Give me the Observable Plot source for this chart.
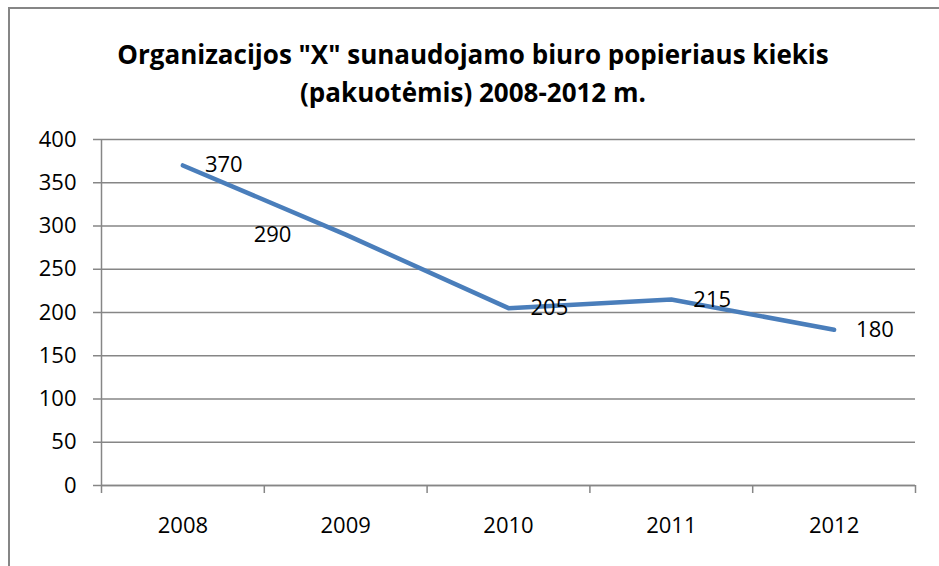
<!DOCTYPE html>
<html>
<head>
<meta charset="utf-8">
<script src="https://cdn.jsdelivr.net/npm/d3@7"></script>
<script src="https://cdn.jsdelivr.net/npm/@observablehq/plot@0.6"></script>
<style>
  html, body { margin: 0; padding: 0; background: #fff; }
  #wrap { position: relative; width: 939px; height: 566px; overflow: hidden; background: #fff; font-family: "Open Sans", sans-serif; }
  #frame { position: absolute; left: 8px; top: 7px; width: 960px; height: 600px; border: 2px solid #868686; box-sizing: border-box; }
  #title { position: absolute; left: 9px; width: 928px; top: 35px; text-align: center; font-weight: bold; font-size: 26px; line-height: 38px; color: #000; }
  #chart { position: absolute; left: 0; top: 0; }
</style>
</head>
<body>
<div id="wrap">
  <div id="frame"></div>
  <div id="title">Organizacijos "X" sunaudojamo biuro popieriaus kiekis<br>(pakuotėmis) 2008-2012 m.</div>
  <div id="chart"></div>
</div>
<script>
const years = [2008, 2009, 2010, 2011, 2012];
const values = [370, 290, 205, 215, 180];
const yTicks = [0, 50, 100, 150, 200, 250, 300, 350, 400];

const data = years.map((y, i) => ({year: y, value: values[i]}));
const boundaries = d3.range(years[0] - 0.5, years[years.length - 1] + 1, 1);
const gray = "#868686";

const plot = Plot.plot({
  width: 939,
  height: 566,
  marginLeft: 101,
  marginRight: 24,
  marginTop: 139,
  marginBottom: 81,
  style: {fontFamily: "Open Sans, sans-serif", fontSize: "22px", color: "#000", background: "transparent", overflow: "visible"},
  x: {type: "linear", domain: [years[0] - 0.5, years[years.length - 1] + 0.5], axis: null},
  y: {domain: [0, 400], axis: null},
  marks: [
    Plot.gridY(yTicks, {stroke: gray, strokeOpacity: 1, strokeWidth: 1.5}),
    Plot.ruleX([years[0] - 0.5], {stroke: gray, strokeWidth: 1.5}),
    Plot.ruleY([0], {stroke: gray, strokeWidth: 1.5}),
    Plot.axisY({ticks: yTicks, label: null, tickSize: 8, tickPadding: 17, stroke: gray, strokeWidth: 1.5, fill: "#000", fontSize: 22}),
    Plot.axisX({ticks: boundaries, label: null, tickSize: 8, tickFormat: () => "", stroke: gray, strokeWidth: 1.5}),
    Plot.axisX({ticks: years, label: null, tickSize: 0, tickPadding: 32, tickFormat: d => String(d), fill: "#000", fontSize: 22}),
    Plot.line(data, {x: "year", y: "value", stroke: "#4a7ebb", strokeWidth: 4.5, strokeLinecap: "round", strokeLinejoin: "round"}),
    Plot.text(data.filter(d => d.year !== 2009), {x: "year", y: "value", text: d => String(d.value), textAnchor: "start", dx: 22, fill: "#000", fontSize: 22}),
    Plot.text(data.filter(d => d.year === 2009), {x: "year", y: "value", text: d => String(d.value), textAnchor: "start", dx: -92, fill: "#000", fontSize: 22})
  ]
});
document.getElementById("chart").appendChild(plot);
</script>
</body>
</html>
